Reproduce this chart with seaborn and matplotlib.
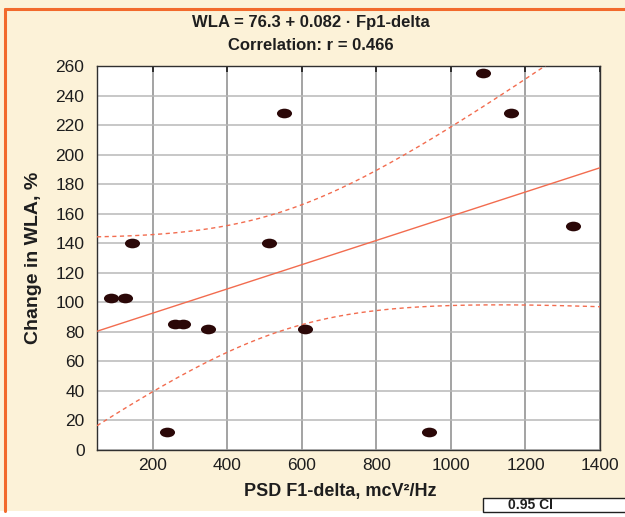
import numpy as np
import pandas as pd
import matplotlib
matplotlib.use("Agg")
import matplotlib.pyplot as plt
import seaborn as sns
from matplotlib.path import Path
from matplotlib.transforms import Affine2D
from matplotlib.lines import Line2D
from matplotlib.patches import Rectangle

# ---- data ----
psd_f1_delta = [87, 125, 144, 238, 259, 281, 348, 511, 552, 608, 941, 1086, 1161, 1328]
change_wla = [103, 103, 140, 12, 85, 85, 82, 140, 228, 82, 12, 255, 228, 152]
INTERCEPT = 76.3
SLOPE = 0.082
R_VALUE = 0.466
T_CRIT = 2.179  # t(0.975, df=12)
x_ticks = [200, 400, 600, 800, 1000, 1200, 1400]
y_ticks = list(range(0, 261, 20))

sns.set_theme(style="white")
plt.rcParams['font.family'] = ['Liberation Sans', 'DejaVu Sans']

CREAM = "#FCF2D8"
ORANGE = "#F26A2C"
LINE = "#F26C4F"
DOT = "#2B0808"
TXT = "#1e1e1e"

fig = plt.figure(figsize=(6.25, 5.17), dpi=100, facecolor=CREAM)
ax = fig.add_axes([97/625, 1-450/517, (600-97)/625, (450-66)/517])
ax.set_facecolor("white")

df = pd.DataFrame({"x": psd_f1_delta, "y": change_wla})

# regression line and 95% confidence band for the mean
xg = np.linspace(50, 1400, 300)
x = np.array(psd_f1_delta, float)
y = np.array(change_wla, float)
n = len(x)
resid = y - (INTERCEPT + SLOPE * x)
s = np.sqrt(np.sum(resid**2) / (n - 2))
sxx = np.sum((x - x.mean())**2)
yhat = INTERCEPT + SLOPE * xg
half = T_CRIT * s * np.sqrt(1/n + (xg - x.mean())**2 / sxx)
lines = pd.DataFrame({"x": xg, "fit": yhat, "lo": yhat - half, "hi": yhat + half})

sns.lineplot(data=lines, x="x", y="fit", color=LINE, lw=1.0, ax=ax, zorder=3)
sns.lineplot(data=lines, x="x", y="lo", color=LINE, lw=1.0, linestyle=(0, (3, 2.5)), ax=ax, zorder=3)
sns.lineplot(data=lines, x="x", y="hi", color=LINE, lw=1.0, linestyle=(0, (3, 2.5)), ax=ax, zorder=3)

ell = Path.unit_circle().transformed(Affine2D().scale(1.0, 0.64))
sns.scatterplot(data=df, x="x", y="y", marker=ell, s=118, color=DOT,
                edgecolor=DOT, linewidth=0, ax=ax, zorder=4)

ax.set_xlim(50, 1400)
ax.set_ylim(0, 260)
ax.set_xticks(x_ticks)
ax.set_yticks(y_ticks)
ax.set_xticklabels([str(t) for t in x_ticks])
ax.set_yticklabels([str(t) for t in y_ticks])
ax.xaxis.grid(True, color="#8a8a8a", lw=1.1)
ax.yaxis.grid(True, color="#b8b8b8", lw=1.1)
ax.set_axisbelow(True)
for sp in ax.spines.values():
    sp.set_color("#303030")
    sp.set_linewidth(1.0)
ax.tick_params(axis="both", labelsize=12.5, colors=TXT, length=0, pad=9)
ax.tick_params(axis="x", top=True, direction="in", length=4, pad=6)
ax.set_xlabel("PSD F1-delta, mcV²/Hz", fontsize=13, fontweight="bold", color=TXT)
ax.set_ylabel("Change in WLA, %", fontsize=14, fontweight="bold", color=TXT)
ax.xaxis.set_label_coords((340-97)/503, -(483-450)/384)
ax.yaxis.set_label_coords(-(97-42)/503, 0.5)

fig.text(0.497, 1-22/517, "WLA = 76.3 + 0.082 · Fp1-delta", ha="center", va="center",
         fontsize=12, fontweight="bold", color=TXT)
fig.text(0.497, 1-46/517, f"Correlation: r = {R_VALUE:.3f}", ha="center", va="center",
         fontsize=12, fontweight="bold", color=TXT)

# frame decorations
fig.add_artist(Rectangle((0, 0), 1, 6/517, transform=fig.transFigure, facecolor="white", edgecolor="none"))
fig.add_artist(Line2D([5/625, 1], [1-9/517, 1-9/517], transform=fig.transFigure, color=ORANGE, lw=2.2))
fig.add_artist(Line2D([5/625, 5/625], [6/517, 1-9/517], transform=fig.transFigure, color=ORANGE, lw=2.2))
fig.add_artist(Rectangle((483/625, 1-512/517), (640-483)/625, 14/517, transform=fig.transFigure,
                         facecolor="white", edgecolor="#202020", lw=1.0))
fig.text(530/625, 1-505/517, "0.95 CI", ha="center", va="center", fontsize=10,
         fontweight="bold", color=TXT)

fig.savefig("out.png", dpi=100, facecolor=CREAM)
